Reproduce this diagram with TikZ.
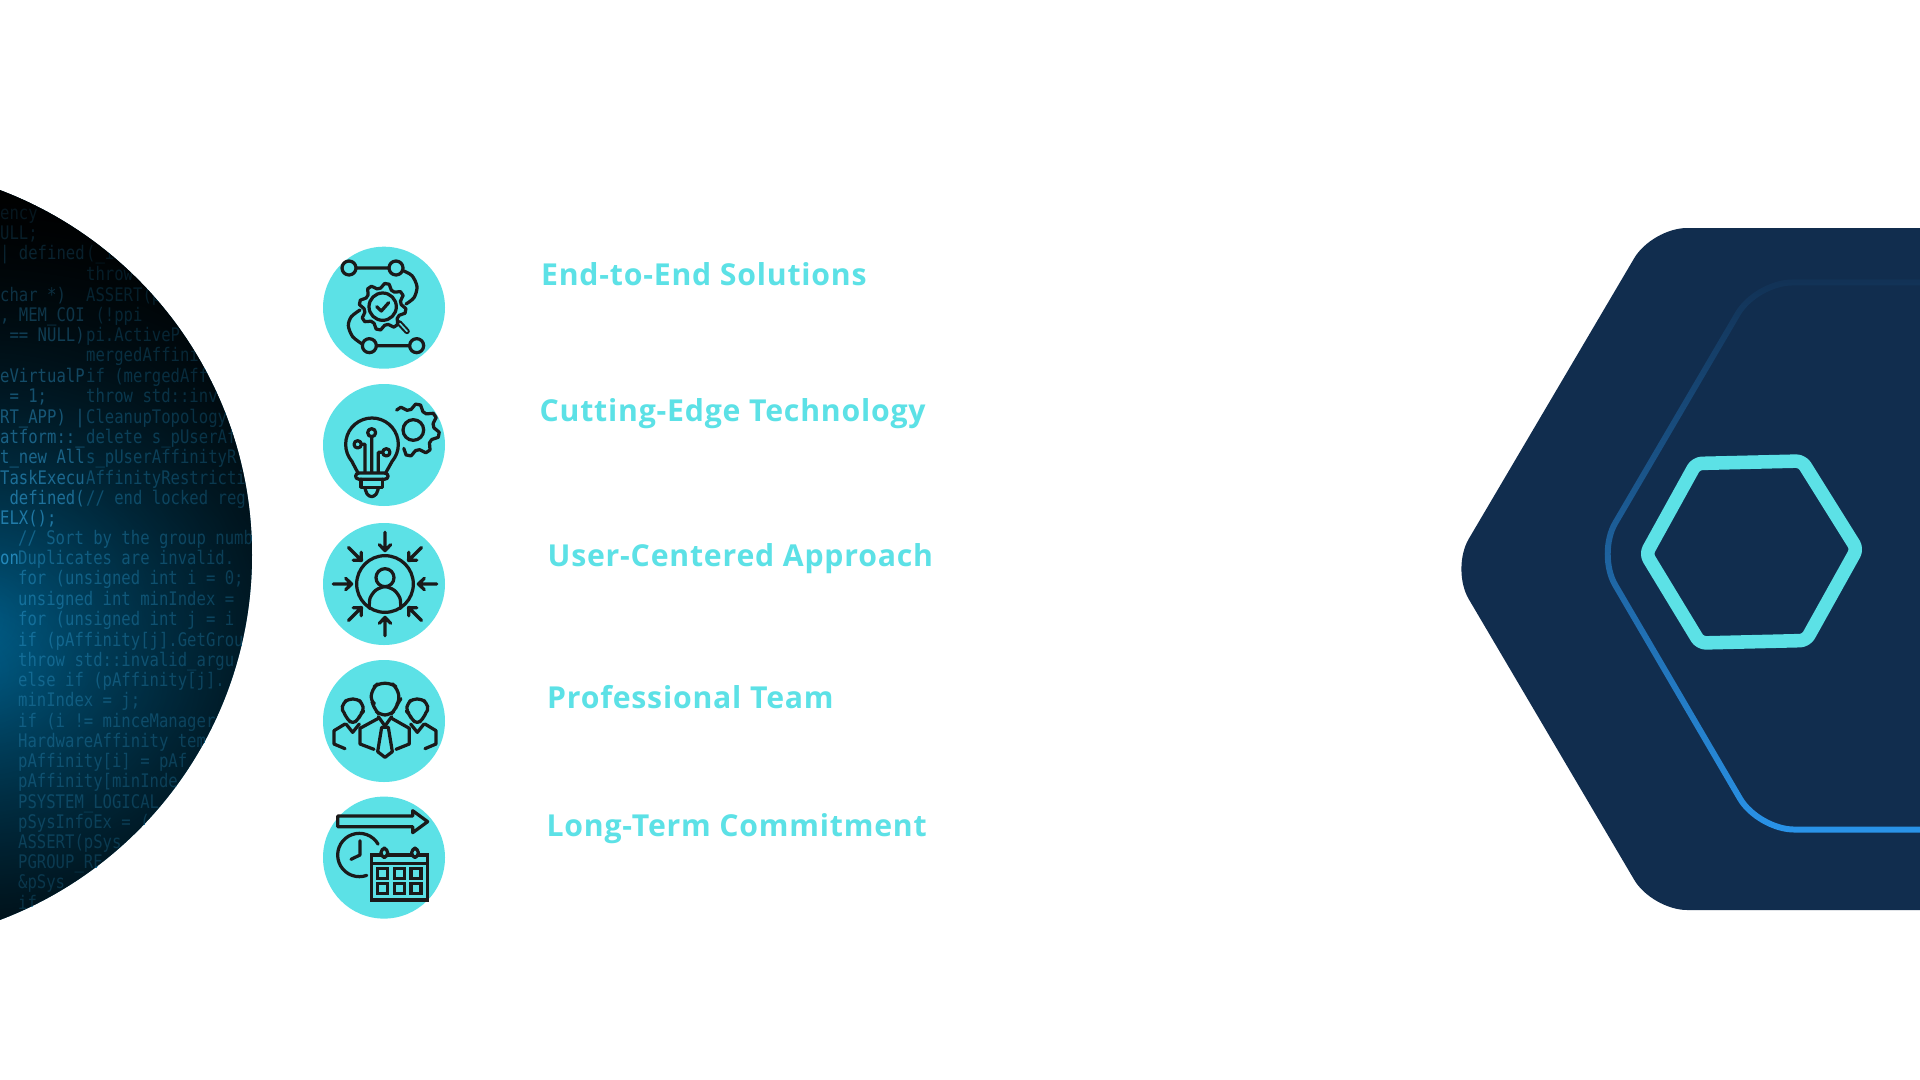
\documentclass[tikz,border=0pt]{standalone}
\usepackage{fontspec}
\setmainfont{Open Sans}[LetterSpace=2.6]
\newfontfamily\codefont{DejaVu Sans Mono}
\usetikzlibrary{fadings}
\definecolor{cyanx}{HTML}{5CE1E6}
\definecolor{navyx}{HTML}{112D4E}
\definecolor{inkx}{HTML}{1A1A1A}
\definecolor{linex}{HTML}{2A93E8}
\definecolor{basex}{HTML}{006390}
\definecolor{codeA}{HTML}{2A9ED8}
\definecolor{codeB}{HTML}{177CAC}
\tikzfading[name=vign, inner color=transparent!100, outer color=transparent!0]
\tikzset{
  x=0.05cm, y=-0.05cm,
  ink/.style={draw=inkx, line width=4.6pt, line cap=round, line join=round},
  badge/.style={circle, fill=cyanx, draw=none, minimum size=122*0.05cm, inner sep=0pt},
  label/.style={anchor=base west, text=cyanx, inner sep=0pt, font=\bfseries\fontsize{43}{50}\selectfont},
  codeL/.style={anchor=base west, inner sep=0pt, text=codeA, font=\codefont\fontsize{22.2}{26}\selectfont},
  codeR/.style={anchor=base west, inner sep=0pt, text=codeB, font=\codefont\fontsize{22.2}{26}\selectfont},
}
\newcommand{\stretched}[1]{\scalebox{1}[1.2]{#1}}
\begin{document}
\begin{tikzpicture}
\useasboundingbox (0,0) rectangle (1920,1080);
\fill[white] (0,0) rectangle (1920,1080);

% ---- code disc
\begin{scope}
\clip (-138,555) circle[radius=390];
\fill[basex] (-140,150) rectangle (260,960);
\fill[black, path fading=vign, fit fading=false, fading transform={shift={(-30,670)},xscale=36,yscale=30}] (-140,150) rectangle (260,960);
\foreach \yy/\txt [count=\i] in {
 213/{ency},233/{ULL;},253/{| defined},295/{char *)},315/{, MEM\_COI},335/{ == NULL)},
 376/{eVirtualP},396/{ = 1;},417/{RT\_APP) |},437/{atform::\_},457/{t\_new All},478/{TaskExecu},498/{ defined(},518/{ELX();},558/{on}}
  { \node[codeL] (cl\i) at (0,\yy+6) {\stretched{\txt}}; }
\foreach \yy/\txt [count=\i] in {
 253/{(\_in},274/{throw},295/{ASSERT(p},315/{    (!ppi},335/{pi.ActiveP},355/{mergedAffini},376/{if (mergedAff},396/{throw std::inv},417/{CleanupTopology},437/{delete s\_pUserAf},457/{s\_pUserAffinityR},478/{AffinityRestricti},498/{// end locked reg}}
  { \node[codeR] (cr\i) at (86,\yy+6) {\stretched{\txt}}; }
\foreach \yy/\txt [count=\i] in {
 538/{// Sort by the group numb},558/{Duplicates are invalid.},578/{for (unsigned int i = 0;},599/{unsigned int minIndex =},619/{for (unsigned int j = i},640/{if (pAffinity[j].GetGrou},660/{throw std::invalid\_argu},680/{else if (pAffinity[j].},700/{minIndex = j;},721/{if (i != minceManager:},741/{HardwareAffinity tem},761/{pAffinity[i] = pAf},781/{pAffinity[minInde},802/{PSYSTEM\_LOGICAL},822/{pSysInfoEx = (},842/{ASSERT(pSys},862/{PGROUP\_RE},882/{\&pSys},903/{if}}
  { \node[codeR] (cb\i) at (18,\yy+6) {\stretched{\txt}}; }
\fill[black, path fading=vign, fit fading=false, fading transform={shift={(-20,620)},xscale=29,yscale=27}] (-140,150) rectangle (260,960);
\end{scope}

% ---- badges
\foreach \n/\cy in {a/307.7,b/445,c/584,d/721,e/857.6}
  \node[badge] (\n) at (384,\cy) {};

% ---- labels
\node[label] (ta) at (541,285.7) {End-to-End Solutions};
\node[label] (tb) at (539.5,421.7) {Cutting-Edge Technology};
\node[label] (tc) at (547.5,566.7) {User-Centered Approach};
\node[label] (td) at (547,708) {Professional Team};
\node[label] (te) at (546.5,836.7) {Long-Term Commitment};

% ---- icon 1 : process gear
\begin{scope}[shift={(310,235)}, scale=1/3]
 \draw[ink] (117,99) circle[radius=21] (258,99) circle[radius=21] (138,99) -- (237,99);
 \draw[ink] (178,332) circle[radius=21] (320,332) circle[radius=21] (199,332) -- (299,332);
 \draw[ink] plot[smooth] coordinates {(277,106) (306,122) (321,155) (312,188) (288,207)};
 \draw[ink] plot[smooth] coordinates {(150,225) (124,245) (115,272) (128,305) (158,328)};
 \draw[ink] plot[samples at={0,...,31}] ({218+(mod(\x,4)<2?70:56)*cos(\x*11.25+5)},{215+(mod(\x,4)<2?70:56)*sin(\x*11.25+5)}) -- cycle;
 \draw[ink] (218,215) circle[radius=41];
 \draw[ink] (200,215) -- (214,228) -- (236,203);
 \draw[ink, line width=8pt] (268,264) -- (291,289);
 \draw[cyanx, line width=2.2pt, line cap=round] (270,266) -- (291,289);
\end{scope}

% ---- icon 2 : bulb and gear
\begin{scope}[shift={(310,235)}, scale=1/3]
 \draw[ink] plot[samples at={20,...,42}] ({310+(mod(\x,4)<2?78:62)*cos(\x*11.25+5)},{585+(mod(\x,4)<2?78:62)*sin(\x*11.25+5)});
 \draw[ink] (310,585) circle[radius=31];
 \draw[ink] (143,712) -- plot[samples at={140,150,...,400}] ({186+79*cos(\x)},{628+79*sin(\x)}) -- (228,712);
 \draw[ink] (148,714) -- (223,714) .. controls (238,714) and (238,733) .. (223,733) -- (148,733) .. controls (133,733) and (133,714) .. (148,714);
 \draw[ink] (153,733) -- (153,757) -- (218,757) -- (218,733);
 \draw[ink] plot[smooth] coordinates {(165,760) (172,778) (185,785) (198,778) (205,760)};
 \draw[ink] (185,593) circle[radius=12] (185,605) -- (185,712);
 \draw[ink] (143,628) circle[radius=11] (154,628) -- (165,628) -- (165,712);
 \draw[ink] (229,652) circle[radius=11] (218,652) -- (205,652) -- (205,712);
\end{scope}

% ---- icon 3 : user with inward arrows
\begin{scope}[shift={(310,515)}, scale=1/3]
 \draw[ink] (225,207) circle[radius=85];
 \draw[ink] (225,188) circle[radius=27];
 \draw[ink] plot[smooth] coordinates {(178,280) (180,250) (197,226) (225,215) (253,226) (270,250) (272,280)};
 \foreach \a in {0,45,...,315}
  \draw[ink, shift={(225,207)}, rotate=\a] (155,0) -- (100,0) (118,-17) -- (100,0) -- (118,17);
\end{scope}

% ---- icon 4 : team
\begin{scope}[shift={(310,650)}, scale=1/3]
 \draw[ink, rounded corners=8pt] (186,155) -- (180,150) -- (190,112) -- (205,100) -- (245,100) -- (260,112) -- (270,150) -- (263,160) -- (255,180) -- (240,195) -- (210,195) -- (195,180) -- (186,155);
 \draw[ink] (205,205) -- (150,235) -- (150,282) -- (192,298);
 \draw[ink] (245,205) -- (298,235) -- (298,282) -- (258,298);
 \draw[ink] (205,200) -- (225,228) -- (245,200);
 \draw[ink] (215,232) -- (235,232) -- (247,305) -- (225,322) -- (203,305) -- cycle;
 \foreach \m in {0,1} {
  \begin{scope}[shift={(450*\m,0)}, xscale={1-2*\m}]
   \draw[ink, rounded corners=6pt] (103,190) -- (94,182) -- (100,158) -- (115,147) -- (142,147) -- (156,158) -- (162,182) -- (152,192) -- (145,208) -- (128,222) -- (112,208) -- (103,190);
   \draw[ink] (105,222) -- (72,242) -- (72,282) -- (105,296);
   \draw[ink] (108,222) -- (128,247) -- (148,222);
  \end{scope}
 }
\end{scope}

% ---- icon 5 : schedule
\begin{scope}[shift={(310,650)}, scale=1/3]
 \draw[ink] (83,498) -- (308,498) -- (308,482) -- (353,515) -- (308,548) -- (308,530) -- (83,530) -- cycle;
 \draw[ink] plot[samples at={-30,-40,...,-290}] ({148+65*cos(\x)},{615+65*sin(\x)});
 \draw[ink] (150,572) -- (150,615) -- (123,628);
 \draw[ink, fill=cyanx, line cap=butt, line join=miter] (185,615) rectangle (353,750);
 \draw[ink, line cap=butt] (185,640) -- (353,640);
 \draw[ink, fill=cyanx, rounded corners=6pt] (213,595) rectangle (233,622);
 \draw[ink, fill=cyanx, rounded corners=6pt] (305,595) rectangle (325,622);
 \foreach \cx in {218,268,318} \foreach \cyy in {670,715}
  \draw[ink, line join=miter] (\cx-15,\cyy-15) rectangle (\cx+15,\cyy+15);
\end{scope}

% ---- right hexagons
\fill[navyx, rounded corners=35*0.05cm] (2000,228) -- (1652,228) -- (1451,569) -- (1652,910) -- (2000,910);
\draw[linex, line width=8.5pt, rounded corners=36*0.05cm, path fading=north, fit fading=false, fading transform={shift={(1700,540)},scale=16.5}]
  (2000,282.5) -- (1756,282.5) -- (1597,554) -- (1758,829.5) -- (2000,829.5);
\draw[cyanx, line width=19.3pt, rounded corners=6*0.05cm, line join=round]
  (1696,463.5) -- (1802,461) -- (1857,549) -- (1806,640.5) -- (1700,643) -- (1646,554) -- cycle;
\end{tikzpicture}
\end{document}
